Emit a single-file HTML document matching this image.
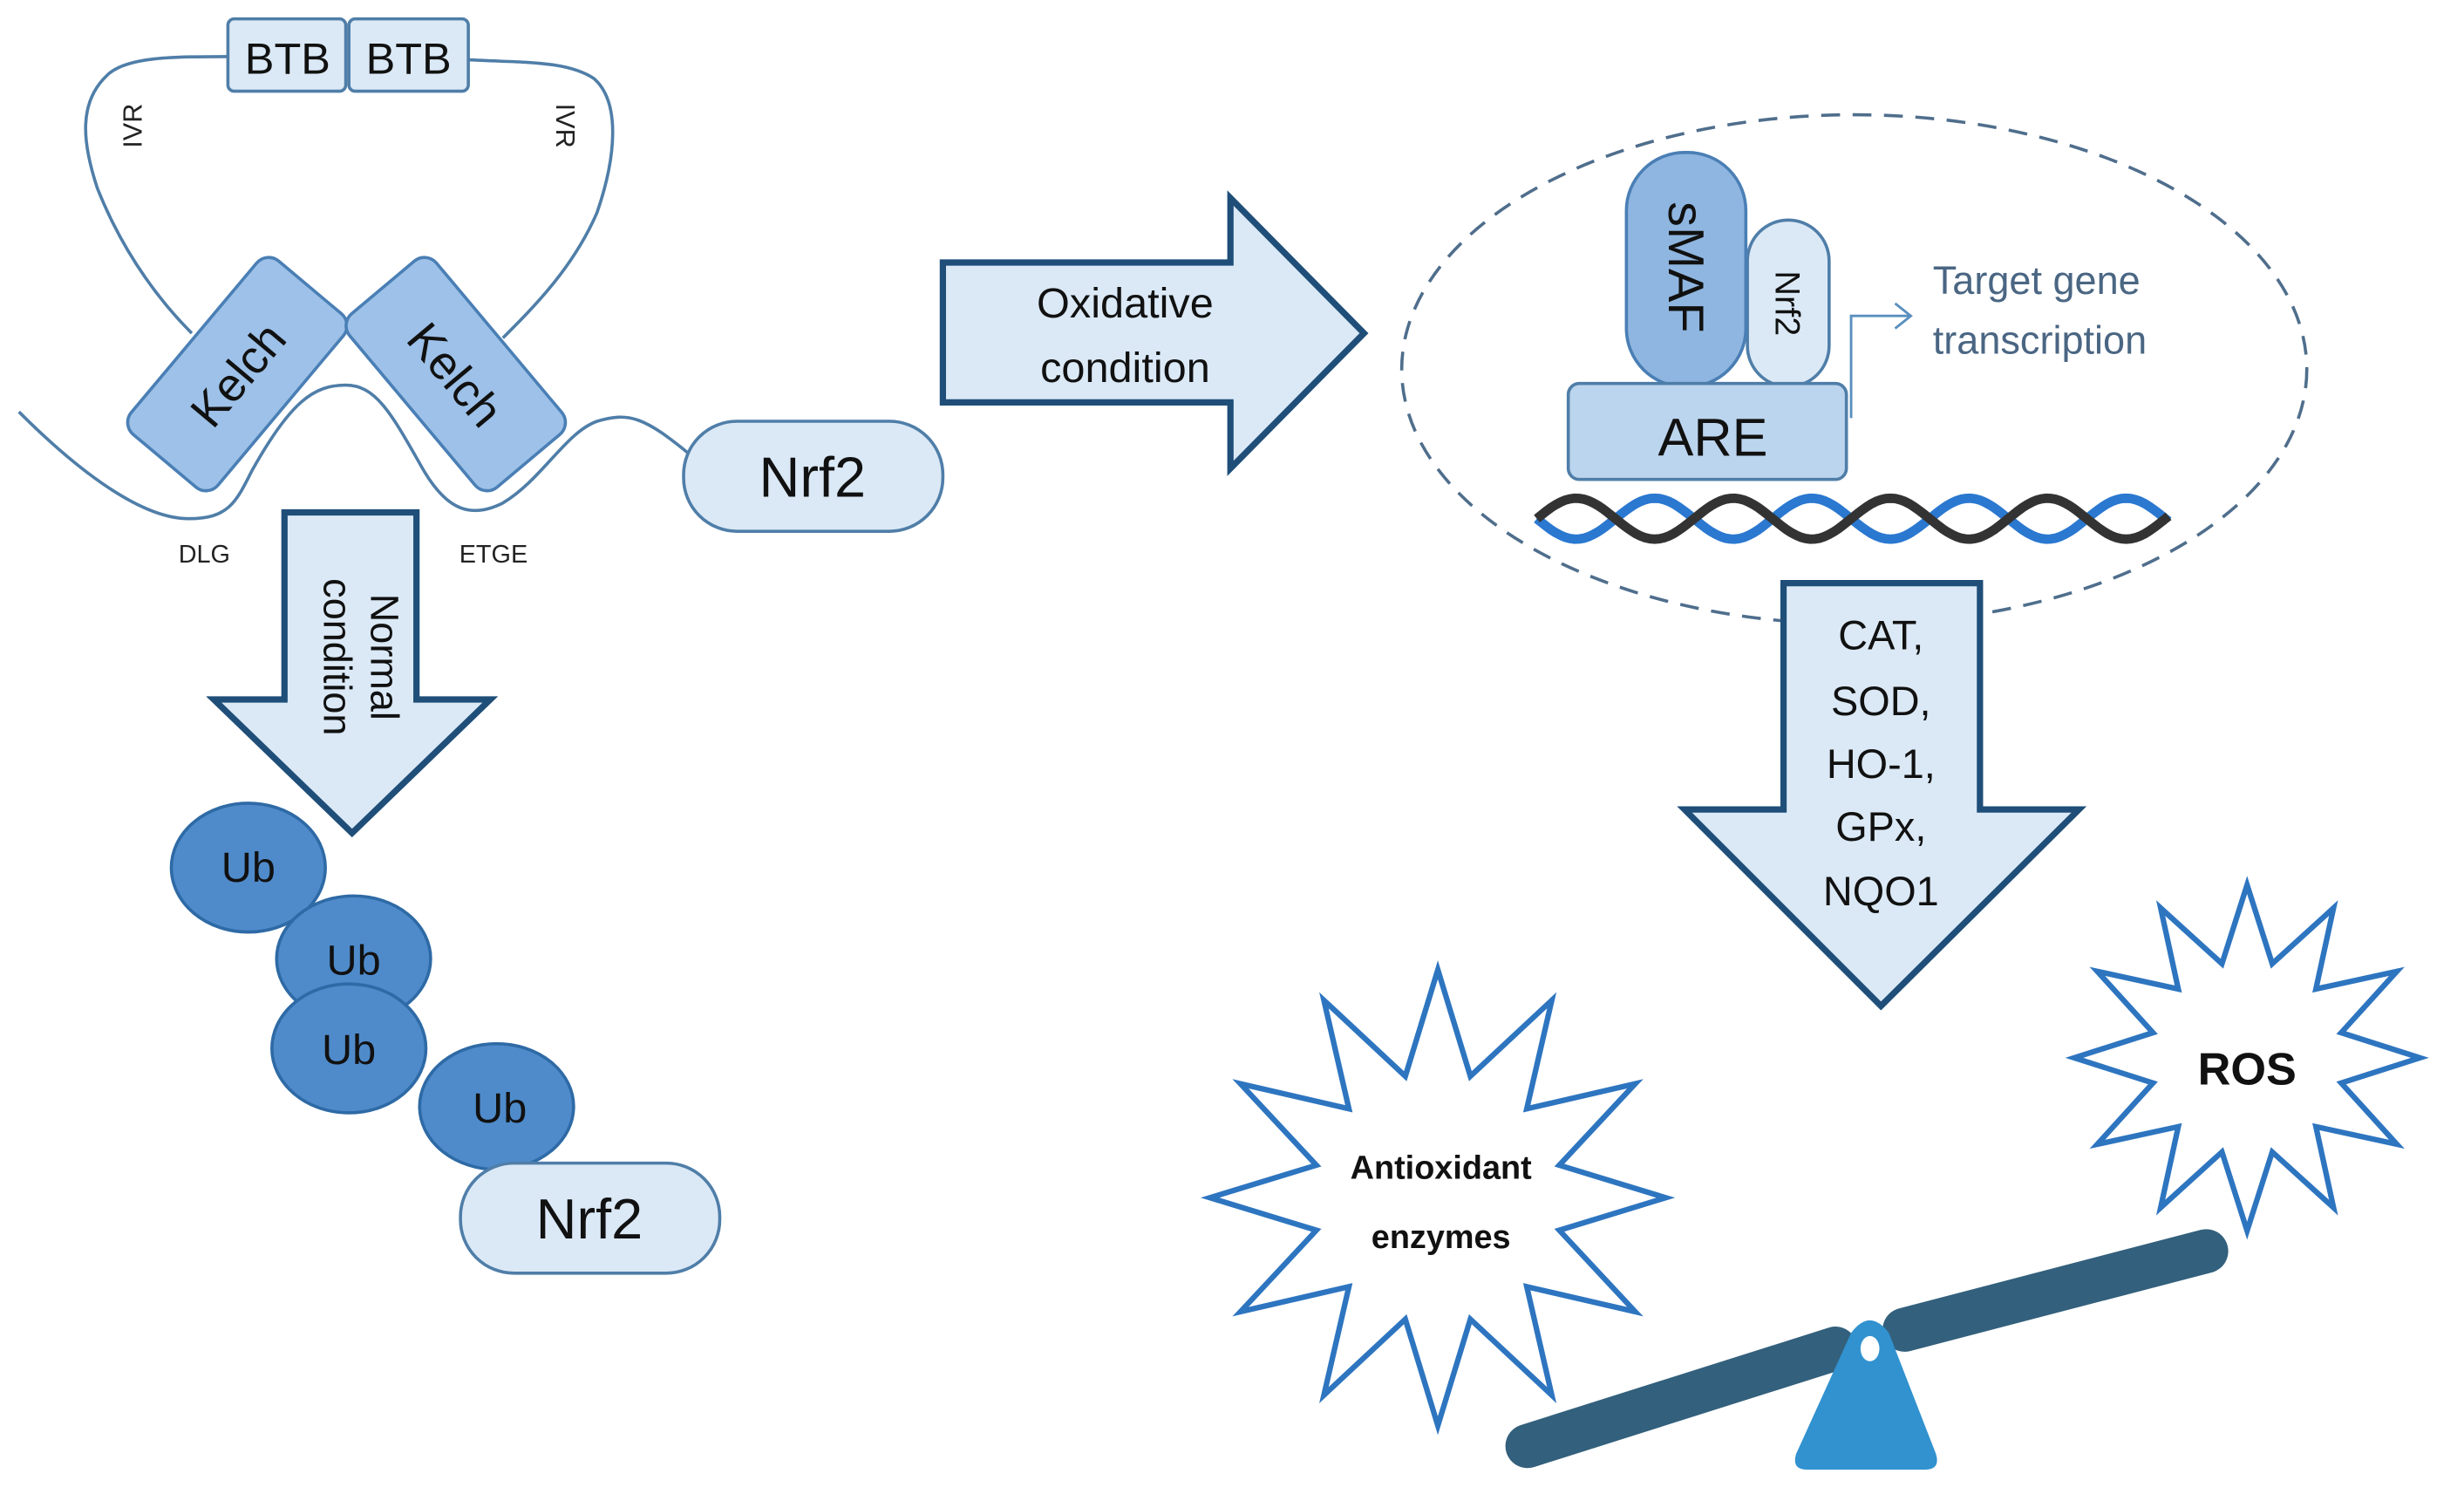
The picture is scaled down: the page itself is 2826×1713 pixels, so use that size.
<!DOCTYPE html>
<html><head><meta charset="utf-8"><style>
html,body{margin:0;padding:0;background:#fff}
svg{display:block}
text{font-family:"Liberation Sans",sans-serif}
</style></head><body>
<svg id="s" width="2826" height="1713" viewBox="0 0 1568 950.5" xmlns="http://www.w3.org/2000/svg">
<rect width="1568" height="951" fill="#fff"/>
<!-- loop lines -->
<g fill="none" stroke="#4f7ea8" stroke-width="2">
<path d="M147,36 C110,36 80,36 68,48 C50,65 52,90 62,120 C80,165 105,195 122,212"/>
<path d="M298,38 C330,40 360,38 378,50 C395,65 392,100 380,135 C365,170 340,195 320,215"/>
<path d="M12,262 C50,300 90,330 120,330 C145,330 150,320 160,300 C185,255 200,245 220,245 C240,245 250,265 270,300 C285,325 300,330 320,320 C345,305 360,275 380,268 C400,262 410,265 440,290"/>
</g>
<!-- BTB -->
<g fill="#dbe9f6" stroke="#4f7ea8" stroke-width="2">
<rect x="145" y="12" width="75" height="46" rx="4"/>
<rect x="222" y="12" width="76" height="46" rx="4"/>
</g>
<text x="183" y="47" font-size="28" text-anchor="middle" fill="#111">BTB</text>
<text x="260" y="47" font-size="28" text-anchor="middle" fill="#111">BTB</text>
<text transform="translate(90,80) rotate(-90)" font-size="17" text-anchor="middle" fill="#222">IVR</text>
<text transform="translate(354,80) rotate(90)" font-size="17" text-anchor="middle" fill="#222">IVR</text>
<!-- Kelch -->
<g transform="translate(151,238) rotate(-50)">
<rect x="-72" y="-36" width="144" height="72" rx="10" fill="#9dc1e8" stroke="#4a7fb5" stroke-width="2"/>
<text x="0" y="11" font-size="30" text-anchor="middle" fill="#111">Kelch</text>
</g>
<g transform="translate(290,238) rotate(50)">
<rect x="-72" y="-36" width="144" height="72" rx="10" fill="#9dc1e8" stroke="#4a7fb5" stroke-width="2"/>
<text x="0" y="11" font-size="30" text-anchor="middle" fill="#111">Kelch</text>
</g>
<text x="130" y="358" font-size="16" text-anchor="middle" fill="#222">DLG</text>
<text x="314" y="358" font-size="16" text-anchor="middle" fill="#222">ETGE</text>
<!-- Nrf2 pill -->
<rect x="435" y="268" width="165" height="70" rx="34" fill="#dbe9f6" stroke="#4f7ea8" stroke-width="2"/>
<text x="517" y="316" font-size="36" text-anchor="middle" fill="#111">Nrf2</text>
<!-- Normal arrow -->
<path d="M181,326 H265 V445 H312 L224,530 L136,445 H181 Z" fill="#dbe9f6" stroke="#1f4e79" stroke-width="4" stroke-linejoin="miter"/>
<text transform="translate(236,418) rotate(90)" font-size="25" text-anchor="middle" fill="#111">Normal</text>
<text transform="translate(206,418) rotate(90)" font-size="25" text-anchor="middle" fill="#111">condition</text>
<!-- Ub -->
<g fill="#4f8bcb" stroke="#2e6aa5" stroke-width="2">
<ellipse cx="158" cy="552" rx="49" ry="41"/>
<ellipse cx="225" cy="610" rx="49" ry="40"/>
<ellipse cx="222" cy="667" rx="49" ry="41"/>
<ellipse cx="316" cy="704" rx="49" ry="40"/>
</g>
<g font-size="27" text-anchor="middle" fill="#111">
<text x="158" y="561">Ub</text><text x="225" y="620">Ub</text><text x="222" y="677">Ub</text><text x="318" y="714">Ub</text>
</g>
<rect x="293" y="740" width="165" height="70" rx="34" fill="#dbe9f6" stroke="#4f7ea8" stroke-width="2"/>
<text x="375" y="788" font-size="36" text-anchor="middle" fill="#111">Nrf2</text>
<!-- Oxidative arrow -->
<path d="M600,167 H783 V126 L868,212 L783,298 V256 H600 Z" fill="#dbe9f6" stroke="#1f4e79" stroke-width="4"/>
<text x="716" y="202" font-size="27" text-anchor="middle" fill="#111">Oxidative</text>
<text x="716" y="243" font-size="27" text-anchor="middle" fill="#111">condition</text>
<!-- dashed ellipse -->
<ellipse cx="1180" cy="235" rx="288" ry="162" fill="none" stroke="#4f6e8c" stroke-width="2" stroke-dasharray="12,8"/>
<!-- sMAF etc -->
<rect x="1112" y="140" width="52" height="106" rx="26" fill="#dbe9f6" stroke="#4f7ea8" stroke-width="2"/>
<rect x="1035" y="97" width="76" height="149" rx="37" fill="#8fb6e0" stroke="#4a7fb5" stroke-width="2"/>
<text transform="translate(1062,170) rotate(90)" font-size="32" text-anchor="middle" fill="#111">sMAF</text>
<text transform="translate(1130,193) rotate(90)" font-size="22" text-anchor="middle" fill="#111">Nrf2</text>
<rect x="998" y="244" width="177" height="61" rx="7" fill="#bcd5ee" stroke="#4f7ea8" stroke-width="2"/>
<text x="1090" y="290" font-size="34" text-anchor="middle" fill="#111">ARE</text>
<path d="M1178,266 V201 H1215 M1206,193 L1216,201 L1206,209" fill="none" stroke="#5a8fbf" stroke-width="1.6"/>
<text x="1230" y="187" font-size="25" fill="#4a6683">Target gene</text>
<text x="1230" y="225" font-size="25" fill="#4a6683">transcription</text>
<path id="dnaB" fill="none" stroke="#2a78d0" stroke-width="6"/>
<path id="dnaK" fill="none" stroke="#333" stroke-width="6"/>
<!-- CAT arrow -->
<path d="M1135,371 H1260 V515 H1323 L1197,640 L1072,515 H1135 Z" fill="#dbe9f6" stroke="#1f4e79" stroke-width="4"/>
<g font-size="26" text-anchor="middle" fill="#111">
<text x="1197" y="413">CAT,</text><text x="1197" y="455">SOD,</text><text x="1197" y="495">HO-1,</text><text x="1197" y="535">GPx,</text><text x="1197" y="576">NQO1</text>
</g>
<!-- stars -->
<polygon id="st1" fill="#fff" stroke="#2e75c0" stroke-width="3.5" stroke-linejoin="miter"/>
<polygon id="st2" fill="#fff" stroke="#2e75c0" stroke-width="3.5" stroke-linejoin="miter"/>
<text x="917" y="750" font-size="21" font-weight="bold" text-anchor="middle" fill="#111">Antioxidant</text>
<text x="917" y="794" font-size="21" font-weight="bold" text-anchor="middle" fill="#111">enzymes</text>
<text x="1430" y="690" font-size="29" font-weight="bold" text-anchor="middle" fill="#111">ROS</text>
<!-- seesaw -->
<line x1="972" y1="920" x2="1168" y2="858" stroke="#33607c" stroke-width="28" stroke-linecap="round"/>
<line x1="1212" y1="846" x2="1404" y2="796" stroke="#33607c" stroke-width="28" stroke-linecap="round"/>
<path d="M1178,848 Q1190,832 1202,848 L1232,925 Q1235,935 1225,935 H1150 Q1140,935 1143,925 Z" fill="#3192cf"/>
<ellipse cx="1190" cy="858" rx="6" ry="8" fill="#fff"/>
</svg>
<script>
function star(id,cx,cy,R,r,n){var p=[];for(var i=0;i<2*n;i++){var a=-Math.PI/2+i*Math.PI/n;var rr=i%2?r:R;p.push((cx+rr*Math.cos(a)).toFixed(1)+','+(cy+rr*Math.sin(a)).toFixed(1));}document.getElementById(id).setAttribute('points',p.join(' '));}
star('st1',915,762,145,80,12);
star('st2',1430,673,110,62,12);
function dna(id,ph){var d='';for(var x=978;x<=1380;x+=3){var y=330+13*Math.sin((x-978)/100*2*Math.PI+ph);d+=(x==978?'M':'L')+x+','+y.toFixed(1);}document.getElementById(id).setAttribute('d',d);}
dna('dnaB',0);dna('dnaK',Math.PI);
</script>
</body></html>
